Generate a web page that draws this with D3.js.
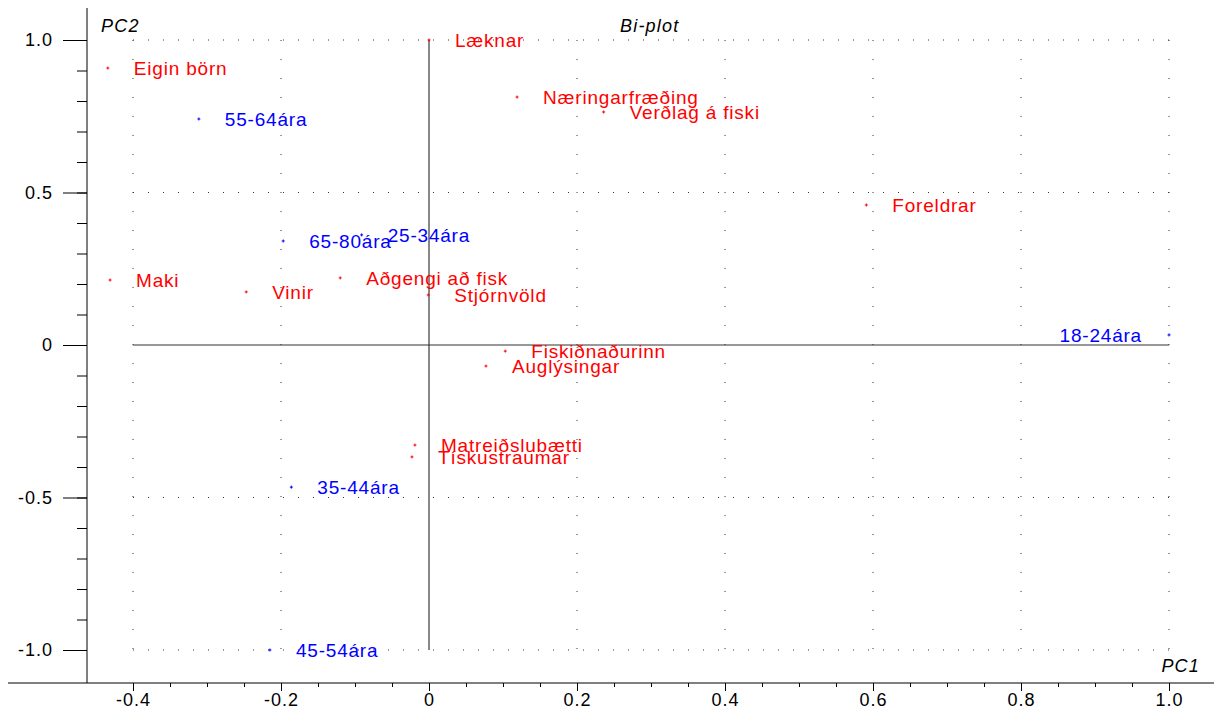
<!DOCTYPE html>
<html>
<head>
<meta charset="utf-8">
<script src="https://cdn.jsdelivr.net/npm/d3@7"></script>
<style>
  body { margin: 0; background: #fff; }
  svg { display: block; font-family: "Liberation Sans", Arial, sans-serif; }
  .pt-label { font-size: 19px; letter-spacing: 0.8px; }
  .tick text { font-size: 18px; letter-spacing: 1px; fill: #000; }
  .title { font-size: 18px; font-style: italic; letter-spacing: 1.2px; }
</style>
</head>
<body>
<div id="chart"></div>
<script>
// variables (red) - loadings on PC1 / PC2
const varNames = ["Eigin börn", "Læknar", "Næringarfræðing", "Verðlag á fiski", "Foreldrar",
  "Maki", "Vinir", "Aðgengi að fisk", "Stjórnvöld", "Fiskiðnaðurinn", "Auglýsingar",
  "Matreiðslubætti", "Tískustraumar"];
const varPC1 = [-0.434, 0.0, 0.119, 0.236, 0.591, -0.431, -0.247, -0.120, -0.001, 0.103, 0.077, -0.019, -0.023];
const varPC2 = [0.908, 1.0, 0.813, 0.764, 0.459, 0.213, 0.174, 0.220, 0.164, -0.020, -0.069, -0.328, -0.367];

// age groups (blue)
const grpNames = ["55-64ára", "65-80ára", "25-34ára", "18-24ára", "35-44ára", "45-54ára"];
const grpPC1 = [-0.311, -0.197, -0.091, 1.0, -0.186, -0.215];
const grpPC2 = [0.741, 0.341, 0.361, 0.033, -0.466, -1.0];

const xMajor = [-0.4, -0.2, 0, 0.2, 0.4, 0.6, 0.8, 1.0];
const yMajor = [-1.0, -0.5, 0, 0.5, 1.0];
const xGrid = [-0.4, -0.2, 0.2, 0.4, 0.6, 0.8, 1.0];
const yGrid = [-1.0, -0.5, 0.5, 1.0];

const W = 1214, H = 709;
const axisX = 87, axisY = 683;

const x = d3.scaleLinear().domain([-0.4, 1.0]).range([133, 1169]);
const y = d3.scaleLinear().domain([-1, 1]).range([650, 40]);

const fmt = d => d === 0 ? "0" : d.toFixed(1);

const svg = d3.select("#chart").append("svg")
  .attr("width", W).attr("height", H);

// dotted grid
svg.append("g").selectAll("line").data(yGrid).enter().append("line")
  .attr("x1", x(-0.4)).attr("x2", x(1.0))
  .attr("y1", d => y(d)).attr("y2", d => y(d))
  .attr("stroke", "#333").attr("stroke-dasharray", "1,14");
svg.append("g").selectAll("line").data(xGrid).enter().append("line")
  .attr("x1", d => x(d)).attr("x2", d => x(d))
  .attr("y1", y(1)).attr("y2", y(-1))
  .attr("stroke", "#333").attr("stroke-dasharray", "1,18");

// zero lines
svg.append("line")
  .attr("x1", x(0)).attr("x2", x(0)).attr("y1", y(1)).attr("y2", y(-1))
  .attr("stroke", "#111");
svg.append("line")
  .attr("x1", x(-0.4)).attr("x2", x(1.0)).attr("y1", y(0)).attr("y2", y(0))
  .attr("stroke", "#333");

// x axis (major + minor ticks)
const xMinor = d3.range(-0.4, 1.0001, 0.05).map(d => +d.toFixed(2));
svg.append("g").attr("transform", "translate(0," + axisY + ")")
  .call(d3.axisBottom(x).tickValues(xMinor).tickSize(4).tickFormat(""))
  .call(g => g.select(".domain").remove());
svg.append("g").attr("transform", "translate(0," + axisY + ")")
  .call(d3.axisBottom(x).tickValues(xMajor).tickSize(8).tickFormat(fmt))
  .call(g => g.select(".domain").remove())
  .call(g => g.selectAll(".tick text").attr("dy", "0.71em").attr("y", 10));

// y axis
const yMinor = d3.range(-1.0, 1.0001, 0.1).map(d => +d.toFixed(2));
svg.append("g").attr("transform", "translate(" + axisX + ",0)")
  .call(d3.axisLeft(y).tickValues(yMinor).tickSize(10).tickFormat(""))
  .call(g => g.select(".domain").remove());
svg.append("g").attr("transform", "translate(" + axisX + ",0)")
  .call(d3.axisLeft(y).tickValues(yMajor).tickSize(24).tickPadding(10).tickFormat(fmt))
  .call(g => g.select(".domain").remove());

// axis lines
svg.append("line").attr("x1", axisX).attr("x2", axisX).attr("y1", 8).attr("y2", axisY)
  .attr("stroke", "#000");
svg.append("line").attr("x1", 8).attr("x2", W).attr("y1", axisY).attr("y2", axisY)
  .attr("stroke", "#000");

// titles
svg.append("text").attr("class", "title").attr("x", 101).attr("y", 32).text("PC2");
svg.append("text").attr("class", "title").attr("x", 620).attr("y", 32).text("Bi-plot");
svg.append("text").attr("class", "title").attr("x", 1200).attr("y", 672)
  .attr("text-anchor", "end").text("PC1");

// points + labels
function drawSet(names, pc1, pc2, color) {
  const rows = names.map((n, i) => ({ name: n, px: pc1[i], py: pc2[i] }));
  const g = svg.append("g");
  const pts = g.selectAll(".pt").data(rows).enter().append("g")
    .attr("transform", d => "translate(" + x(d.px) + "," + y(d.py) + ")");
  pts.append("path").attr("d", "M-1.5,0H1.5M0,-1.5V1.5")
    .attr("stroke", color).attr("stroke-width", 1);
  pts.append("text").attr("class", "pt-label")
    .attr("fill", color)
    .attr("x", d => d.px > 0.9 ? -27 : 26)
    .attr("text-anchor", d => d.px > 0.9 ? "end" : "start")
    .attr("dy", "0.35em")
    .text(d => d.name);
}

drawSet(varNames, varPC1, varPC2, "#ff0000");
drawSet(grpNames, grpPC1, grpPC2, "#0000ff");
</script>
</body>
</html>
